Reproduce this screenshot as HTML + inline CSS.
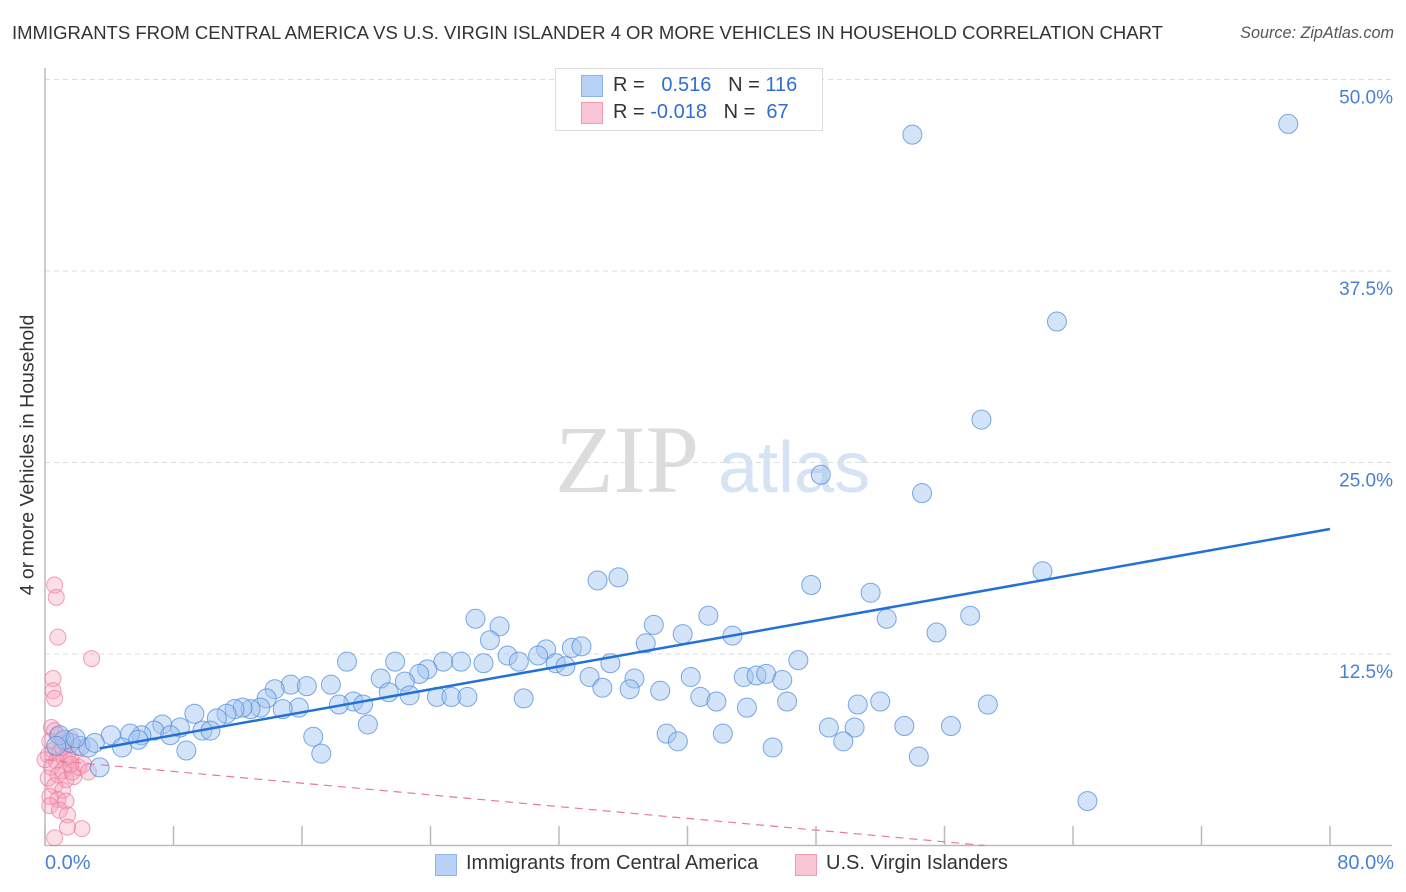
<!DOCTYPE html>
<html><head><meta charset="utf-8"><style>
body{margin:0;background:#fff;font-family:"Liberation Sans",sans-serif}
#c{position:relative;width:1406px;height:892px;overflow:hidden}
.t{position:absolute;white-space:nowrap}
</style></head><body>
<div id="c">
<div class="t" style="left:12px;top:22px;font-size:18.5px;color:#333">IMMIGRANTS FROM CENTRAL AMERICA VS U.S. VIRGIN ISLANDER 4 OR MORE VEHICLES IN HOUSEHOLD CORRELATION CHART</div>
<div class="t" style="right:12px;top:24px;font-size:16.2px;color:#555;font-style:italic">Source: ZipAtlas.com</div>
<div class="t" style="left:28px;top:455px;font-size:19.5px;color:#333;transform:translate(-50%,-50%) rotate(-90deg)">4 or more Vehicles in Household</div>
<svg id="s" width="1406" height="892" style="position:absolute;left:0;top:0">
<text x="555" y="492" font-family="Liberation Serif" font-size="96" fill="#dcdcdc">ZIP</text>
<text x="718" y="492" font-family="Liberation Sans" font-size="72" fill="#d5e3f5">atlas</text>
</svg>
<div class="t" style="left:555px;top:68px;width:266px;height:61px;border:1px solid #ddd;background:#fff"></div>
<div class="t" style="left:581px;top:75px;width:20px;height:20px;background:#b7d2f5;border:1px solid #8fb4e8"></div>
<div class="t" style="left:581px;top:102px;width:20px;height:20px;background:#f9c6d5;border:1px solid #f09ab4"></div>
<div class="t" style="left:613px;top:74px;font-size:20px;color:#333">R = <span style="color:#2f6fd1">&nbsp;&nbsp;0.516</span>&nbsp;&nbsp;&nbsp;N = <span style="color:#2f6fd1">116</span></div>
<div class="t" style="left:613px;top:101px;font-size:20px;color:#333">R = <span style="color:#2f6fd1">-0.018</span>&nbsp;&nbsp;&nbsp;N = <span style="color:#2f6fd1">&nbsp;67</span></div>
<div class="t" style="left:45px;top:852px;font-size:20px;color:#4a80d4">0.0%</div>
<div class="t" style="right:12px;top:852px;font-size:20px;color:#4a80d4">80.0%</div>
<div class="t" style="left:435px;top:854px;width:20px;height:20px;background:#b7d2f5;border:1px solid #8fb4e8"></div>
<div class="t" style="left:466px;top:852px;font-size:20px;color:#333">Immigrants from Central America</div>
<div class="t" style="left:795px;top:854px;width:20px;height:20px;background:#f9c6d5;border:1px solid #f09ab4"></div>
<div class="t" style="left:826px;top:852px;font-size:20px;color:#333">U.S. Virgin Islanders</div>
</div>
<script>
const yTicks=[12.5,25,37.5,50];
const yTickLabels=["12.5%","25.0%","37.5%","50.0%"];
const xTicks=[0,8,16,24,32,40,48,56,64,72,80];
const blueX=[54.0,77.4,63.0,58.3,48.3,54.6,62.1,34.4,35.7,47.7,51.4,26.8,28.3,27.7,37.9,41.3,52.4,57.6,39.7,42.8,55.5,37.4,31.2,32.8,33.4,30.7,28.8,29.5,31.8,32.4,35.2,46.9,18.8,21.8,24.8,25.9,27.3,23.8,23.3,20.9,22.4,33.9,36.7,40.2,43.5,44.3,44.9,45.9,15.3,16.3,17.8,14.3,34.7,36.4,38.3,21.4,22.7,24.4,25.3,26.3,29.8,40.8,41.8,46.2,13.8,19.2,19.8,50.6,52.0,58.7,43.7,18.3,15.8,14.8,13.4,12.8,12.3,11.8,11.3,10.7,9.3,7.3,8.4,9.8,10.3,20.1,48.8,50.4,53.5,56.4,6.8,6.0,5.3,4.1,7.8,5.8,16.7,38.7,42.2,39.4,49.7,45.3,4.8,8.8,17.2,54.4,3.4,64.9,1.6,2.2,2.7,1.2,3.1,0.9,1.9,0.7];
const blueY=[46.4,47.1,34.2,27.8,24.2,23.0,17.9,17.3,17.5,17.0,16.5,14.8,14.3,13.4,14.4,15.0,14.8,15.0,13.8,13.7,13.9,13.2,12.8,12.9,13.0,12.4,12.4,12.0,11.9,11.7,11.9,12.1,12.0,12.0,12.0,12.0,11.9,11.5,11.2,10.9,10.7,11.0,10.9,11.0,11.0,11.1,11.2,10.8,10.5,10.4,10.5,10.2,10.3,10.2,10.1,10.0,9.8,9.7,9.7,9.7,9.6,9.7,9.4,9.4,9.6,9.4,9.2,9.2,9.4,9.2,9.0,9.2,9.0,8.9,9.0,8.9,9.0,8.9,8.6,8.3,8.6,7.9,7.7,7.5,7.5,7.9,7.7,7.7,7.8,7.8,7.5,7.2,7.3,7.2,7.2,6.9,7.1,7.3,7.3,6.8,6.8,6.4,6.4,6.2,6.0,5.8,5.1,2.9,6.7,6.5,6.4,6.9,6.7,7.2,7.0,6.5];
const pinkX=[0.6,0.7,0.8,2.9,0.5,0.5,0.6,0.4,0.6,0.8,1.1,0.3,1.3,1.6,0.5,0.9,0.2,1.2,0.7,1.6,0.4,1.1,0.8,0.2,1.3,1.8,0.6,1.1,0.3,0.8,1.3,1.7,2.1,2.0,1.4,0.0,0.3,0.9,1.4,2.3,1.4,0.6,2.4,2.7,1.6,1.1];
const pinkY=[17.0,16.2,13.6,12.2,10.9,10.1,9.6,7.7,7.5,7.2,6.9,6.8,6.6,7.0,6.2,6.1,5.9,5.7,5.5,5.6,5.1,4.9,4.6,4.4,4.3,4.5,3.9,3.6,3.2,3.0,2.9,4.8,5.1,6.4,5.9,5.6,2.6,2.3,2.0,1.1,1.2,0.5,5.3,4.8,5.3,6.4];
const blueTrendX=[3.4,80];
const blueTrendY=[6.34,20.66];
const pinkTrendX=[0,58.5];
const pinkTrendY=[5.6,0];
const X0=45,X1=1330,Y0=845.5,Y50=79.5;
const sx=v=>X0+(v/80)*(X1-X0);
const sy=v=>Y0-(v/50)*(Y0-Y50);
const s=document.getElementById('s');
const NS='http://www.w3.org/2000/svg';
function mk(t,a){const e=document.createElementNS(NS,t);for(const k in a)e.setAttribute(k,a[k]);s.appendChild(e);return e;}
yTicks.forEach((v,i)=>{
 const g=mk('line',{x1:X0,x2:1392,y1:sy(v),y2:sy(v),stroke:'#ddd','stroke-dasharray':'5,4'});
 
 
 const t=mk('text',{x:1393,y:sy(v)+24,'text-anchor':'end','font-size':19,fill:'#4a80d4','font-family':'Liberation Sans'});
 t.textContent=yTickLabels[i];
 
 
});
const ax=mk('line',{x1:X0,x2:X0,y1:68,y2:Y0,stroke:'#bbb','stroke-width':1.5});


const bx=mk('line',{x1:X0,x2:1392,y1:Y0,y2:Y0,stroke:'#bbb','stroke-width':1.5});


xTicks.forEach(v=>{
 const t=mk('line',{x1:sx(v),x2:sx(v),y1:826,y2:Y0,stroke:'#bbb','stroke-width':1.5});
 
 
});
pinkX.forEach((v,i)=>{
 const c=mk('circle',{cx:sx(v),cy:sy(pinkY[i]),r:8,fill:'rgba(246,160,186,0.35)',stroke:'rgba(236,120,155,0.7)','stroke-width':1});
 
 
});
blueX.forEach((v,i)=>{
 const c=mk('circle',{cx:sx(v),cy:sy(blueY[i]),r:9.5,fill:'rgba(160,196,240,0.45)',stroke:'rgba(80,140,220,0.75)','stroke-width':1});
 
 
});
const pl=mk('line',{x1:sx(pinkTrendX[0]),y1:sy(pinkTrendY[0]),x2:sx(pinkTrendX[1]),y2:sy(pinkTrendY[1]),stroke:'#e57a9b','stroke-width':1.2,'stroke-dasharray':'8,6'});


const bl=mk('line',{x1:sx(blueTrendX[0]),y1:sy(blueTrendY[0]),x2:sx(blueTrendX[1]),y2:sy(blueTrendY[1]),stroke:'#2370d6','stroke-width':2.5});


</script>
</body></html>
